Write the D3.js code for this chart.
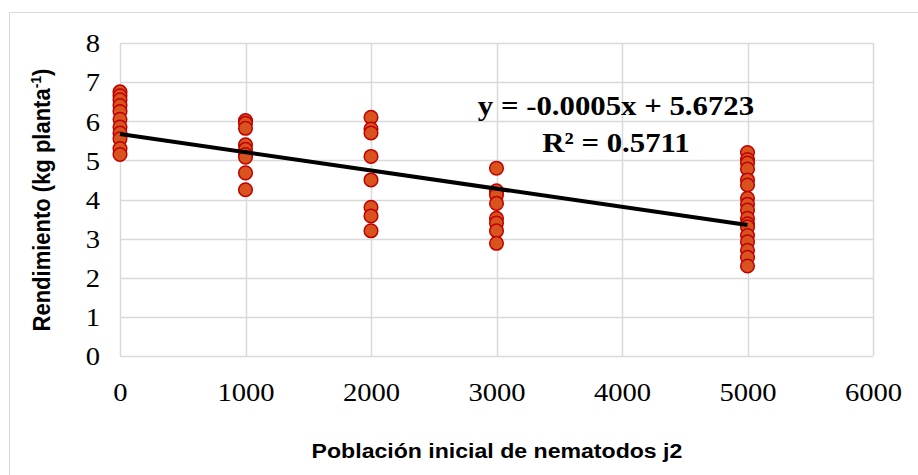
<!DOCTYPE html>
<html>
<head>
<meta charset="utf-8">
<script src="https://cdn.jsdelivr.net/npm/d3@7"></script>
<style>
  html, body { margin: 0; padding: 0; background: #fff; }
  svg { display: block; }
</style>
</head>
<body>
<svg id="chart" width="918" height="475"></svg>
<script>
// Initial J2 nematode population (x) and yield per plant (y)
const pop0 = [0, 0, 0, 0, 0, 0, 0, 0, 0, 0, 0];
const yield0 = [6.75, 6.65, 6.55, 6.4, 6.25, 6.05, 5.85, 5.7, 5.55, 5.3, 5.15];
const pop1000 = [1000, 1000, 1000, 1000, 1000, 1000, 1000, 1000, 1000];
const yield1000 = [6.02, 5.95, 5.82, 5.4, 5.28, 5.15, 5.08, 4.68, 4.25];
const pop2000 = [2000, 2000, 2000, 2000, 2000, 2000, 2000, 2000];
const yield2000 = [6.1, 5.8, 5.7, 5.1, 4.5, 3.8, 3.58, 3.2];
const pop3000 = [3000, 3000, 3000, 3000, 3000, 3000, 3000, 3000];
const yield3000 = [4.8, 4.22, 4.12, 3.9, 3.52, 3.4, 3.2, 2.88];
const pop5000 = [5000, 5000, 5000, 5000, 5000, 5000, 5000, 5000, 5000, 5000, 5000, 5000, 5000, 5000, 5000, 5000, 5000];
const yield5000 = [5.2, 5.02, 4.93, 4.78, 4.5, 4.37, 4.03, 3.88, 3.73, 3.52, 3.38, 3.3, 3.08, 2.92, 2.7, 2.52, 2.3];

// Linear trendline coefficients and fit
const trendSlope = -0.000465;
const trendIntercept = 5.6723;
const trendR2 = 0.5711;
const trendRange = [0, 5000];

// Axis ticks
const xTicks = [0, 1000, 2000, 3000, 4000, 5000, 6000];
const yTicks = [0, 1, 2, 3, 4, 5, 6, 7, 8];

const xTitle = "Población inicial de nematodos j2";
const yTitle = "Rendimiento (kg planta";

const points = [
  [pop0, yield0], [pop1000, yield1000], [pop2000, yield2000],
  [pop3000, yield3000], [pop5000, yield5000]
].flatMap(([xs, ys]) => xs.map((x, i) => ({ x, y: ys[i] })));

const svg = d3.select("#chart");
const W = 918, H = 475;
const plot = { left: 120, right: 873, top: 43, bottom: 356 };
const sx = 1.1; // glyphs are drawn slightly wide

const x = d3.scaleLinear().domain([0, 6000]).range([plot.left, plot.right]);
const y = d3.scaleLinear().domain([0, 8]).range([plot.bottom, plot.top]);

// Chart frame
svg.append("rect")
  .attr("x", 9.5).attr("y", 12.5)
  .attr("width", W).attr("height", H)
  .attr("fill", "#fff")
  .attr("stroke", "#d9d9d9").attr("stroke-width", 1);

const grid = "#d9d9d9";

// Horizontal gridlines
svg.append("g")
  .selectAll("line").data(yTicks).join("line")
  .attr("x1", plot.left).attr("x2", plot.right)
  .attr("y1", d => Math.round(y(d)) + 0.5).attr("y2", d => Math.round(y(d)) + 0.5)
  .attr("stroke", grid).attr("stroke-width", 1.5);

// Vertical gridlines
svg.append("g")
  .selectAll("line").data(xTicks).join("line")
  .attr("x1", d => Math.round(x(d)) + 0.5).attr("x2", d => Math.round(x(d)) + 0.5)
  .attr("y1", plot.top).attr("y2", plot.bottom)
  .attr("stroke", grid).attr("stroke-width", 1.5);

const serif = "'Liberation Serif', 'Times New Roman', serif";
const sans = "'Liberation Sans', Arial, sans-serif";

// Axes (tick labels only, in serif)
const xAxis = d3.axisBottom(x).tickValues(xTicks).tickSize(0).tickPadding(0).tickFormat(d3.format("d"));
const gx = svg.append("g").attr("transform", `translate(0,${plot.bottom})`).call(xAxis);
gx.select(".domain").remove();
gx.selectAll("text")
  .attr("y", 45).attr("dy", null)
  .attr("transform", `scale(${sx},1)`)
  .attr("font-family", serif)
  .attr("font-size", 26).attr("fill", "#000");

const yAxis = d3.axisLeft(y).tickValues(yTicks).tickSize(0).tickPadding(0).tickFormat(d3.format("d"));
const gy = svg.append("g").attr("transform", `translate(${plot.left},0)`).call(yAxis);
gy.select(".domain").remove();
gy.selectAll("text")
  .attr("x", -20 / sx).attr("dy", "0.34em")
  .attr("transform", `scale(${sx},1)`)
  .attr("font-family", serif)
  .attr("font-size", 26).attr("fill", "#000");

// Data points
svg.append("g")
  .selectAll("circle").data(points).join("circle")
  .attr("cx", d => x(d.x)).attr("cy", d => y(d.y))
  .attr("r", 6.8)
  .attr("fill", "#d9531e")
  .attr("stroke", "#c00000").attr("stroke-width", 1.5);

// Linear trendline
const trend = trendRange.map(v => ({ x: v, y: trendSlope * v + trendIntercept }));
svg.append("path")
  .datum(trend)
  .attr("d", d3.line().x(d => x(d.x)).y(d => y(d.y)))
  .attr("fill", "none").attr("stroke", "#000").attr("stroke-width", 4);

// Trendline equation and R²
svg.append("text")
  .attr("transform", `translate(616,115) scale(${sx},1)`)
  .attr("text-anchor", "middle")
  .attr("font-family", serif).attr("font-weight", "bold").attr("font-size", 28)
  .text(`y = ${trendSlope.toFixed(4)}x + ${trendIntercept.toFixed(4)}`);
svg.append("text")
  .attr("transform", `translate(616,152) scale(${sx},1)`)
  .attr("text-anchor", "middle")
  .attr("font-family", serif).attr("font-weight", "bold").attr("font-size", 28)
  .text(`R² = ${trendR2.toFixed(4)}`);

// Axis titles
svg.append("text")
  .attr("transform", `translate(497,458) scale(${sx},1)`)
  .attr("text-anchor", "middle")
  .attr("font-family", sans)
  .attr("font-weight", "bold").attr("font-size", 21)
  .text(xTitle);

const yt = svg.append("text")
  .attr("transform", `translate(50,200) scale(${sx},1) rotate(-90)`)
  .attr("text-anchor", "middle")
  .attr("font-family", sans)
  .attr("font-weight", "bold").attr("font-size", 22);
yt.append("tspan").text(yTitle);
yt.append("tspan").attr("dy", -8).attr("font-size", 14).text("-1");
yt.append("tspan").attr("dy", 8).text(")");
</script>
</body>
</html>
